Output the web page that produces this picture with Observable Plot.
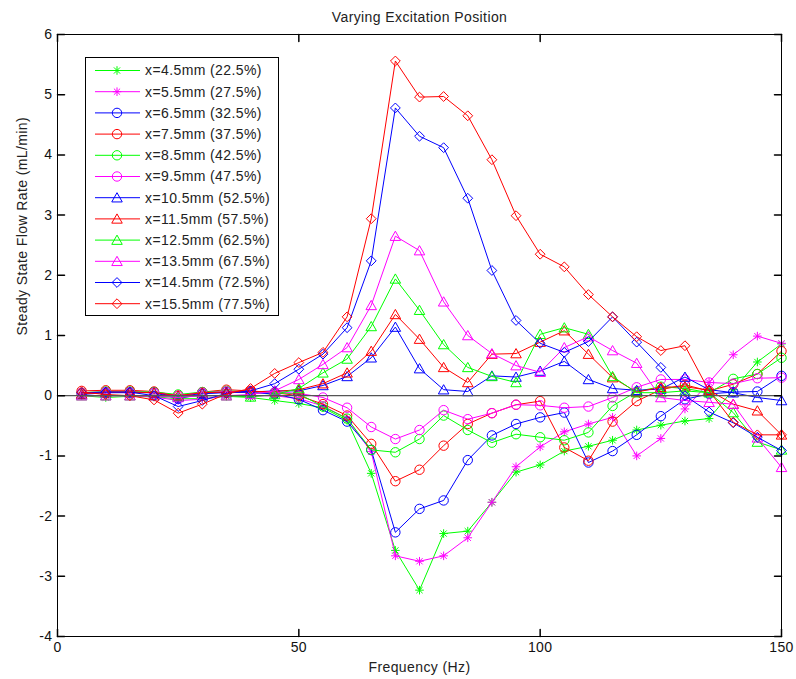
<!DOCTYPE html>
<html><head><meta charset="utf-8">
<script src="https://cdn.jsdelivr.net/npm/d3@7"></script>
<script src="https://cdn.jsdelivr.net/npm/@observablehq/plot@0.6"></script>
<style>
body{margin:0;background:#fff}
#wrap{position:relative;width:796px;height:679px}
#legend{position:absolute;left:0;top:0;pointer-events:none}
</style>
</head><body><div id="wrap"></div>
<script>
// ---------- data ----------
const freqs = [5,10,15,20,25,30,35,40,45,50,55,60,65,70,75,80,85,90,95,100,105,110,115,120,125,130,135,140,145,150];
const seriesLabels = ["x=4.5mm (22.5%)","x=5.5mm (27.5%)","x=6.5mm (32.5%)","x=7.5mm (37.5%)","x=8.5mm (42.5%)","x=9.5mm (47.5%)","x=10.5mm (52.5%)","x=11.5mm (57.5%)","x=12.5mm (62.5%)","x=13.5mm (67.5%)","x=14.5mm (72.5%)","x=15.5mm (77.5%)"];
const x45  = [0.00,-0.03,-0.01,-0.02,-0.05,-0.05,-0.01,-0.03,-0.08,-0.13,-0.20,-0.41,-1.29,-2.57,-3.23,-2.29,-2.25,-1.77,-1.27,-1.15,-0.92,-0.84,-0.74,-0.57,-0.49,-0.42,-0.38,0.10,0.56,0.86];
const x55  = [0.00,0.00,0.00,-0.02,-0.08,-0.06,0.00,0.00,0.00,-0.05,-0.17,-0.38,-0.93,-2.66,-2.75,-2.66,-2.36,-1.77,-1.18,-0.85,-0.60,-0.47,-0.36,-1.00,-0.71,-0.22,0.22,0.68,0.99,0.87];
const x65  = [0.04,0.06,0.06,0.05,-0.05,0.03,0.06,0.05,0.03,-0.06,-0.24,-0.43,-0.90,-2.27,-1.88,-1.74,-1.07,-0.66,-0.47,-0.36,-0.28,-1.11,-0.92,-0.65,-0.34,-0.06,0.03,0.06,0.07,0.33];
const x75  = [0.08,0.09,0.09,0.07,0.00,0.06,0.10,0.08,0.05,0.00,-0.14,-0.33,-0.80,-1.42,-1.23,-0.83,-0.47,-0.29,-0.15,-0.09,-0.86,-1.08,-0.43,-0.09,0.10,0.18,0.08,0.19,0.36,0.74];
const x85  = [0.05,0.07,0.07,0.06,0.02,0.06,0.08,0.06,0.05,0.03,-0.18,-0.38,-0.90,-0.94,-0.72,-0.33,-0.57,-0.78,-0.64,-0.69,-0.74,-0.61,-0.17,0.07,0.15,0.12,0.05,0.28,0.36,0.63];
const x95  = [0.05,0.06,0.06,0.05,0.00,0.05,0.07,0.06,0.06,0.04,-0.03,-0.20,-0.52,-0.72,-0.57,-0.24,-0.39,-0.29,-0.15,-0.16,-0.20,-0.18,-0.03,0.14,0.27,0.27,0.22,0.20,0.29,0.30];
const x105 = [0.02,0.05,0.05,0.05,-0.02,0.04,0.05,0.06,0.08,0.08,0.17,0.32,0.63,1.14,0.45,0.10,0.07,0.33,0.31,0.41,0.57,0.27,0.12,0.09,0.11,0.31,0.10,0.05,-0.03,-0.08];
const x115 = [0.03,0.06,0.06,0.05,0.00,0.05,0.06,0.07,0.07,0.10,0.20,0.38,0.74,1.35,0.94,0.47,0.22,0.69,0.70,0.89,1.08,0.69,0.30,0.06,0.14,0.15,0.09,-0.14,-0.25,-0.65];
const x125 = [0.00,0.00,0.00,0.00,-0.02,0.00,0.00,-0.02,0.02,0.12,0.38,0.61,1.15,1.94,1.42,0.85,0.47,0.32,0.22,1.02,1.13,1.02,0.32,0.05,0.05,0.08,0.05,-0.28,-0.77,-0.90];
const x135 = [0.00,0.00,0.00,0.00,-0.03,0.00,0.00,0.02,0.08,0.27,0.52,0.80,1.50,2.65,2.41,1.56,1.00,0.70,0.50,0.39,0.80,0.98,0.75,0.54,-0.03,-0.08,-0.11,-0.14,-0.70,-1.19];
const x145 = [0.05,0.06,0.06,0.00,-0.18,-0.08,0.04,0.08,0.20,0.44,0.69,1.13,2.24,4.78,4.31,4.12,3.28,2.08,1.25,0.87,0.72,0.90,1.31,0.89,0.47,0.00,-0.27,-0.45,-0.69,-0.91];
const x155 = [0.06,0.02,0.00,-0.07,-0.29,-0.14,0.03,0.12,0.37,0.55,0.72,1.31,2.94,5.56,4.96,4.97,4.65,3.92,2.99,2.35,2.14,1.68,1.31,0.98,0.75,0.83,0.08,-0.44,-0.65,-0.65];
const seriesValues = [x45,x55,x65,x75,x85,x95,x105,x115,x125,x135,x145,x155];
const xTicks = [0,50,100,150];
const yTicks = [-4,-3,-2,-1,0,1,2,3,4,5,6];
const titleText = "Varying Excitation Position";
const xLabelText = "Frequency (Hz)";
const yLabelText = "Steady State Flow Rate (mL/min)";

// ---------- styles ----------
const seriesColors = ["#00ff00","#ff00ff","#0000ff","#ff0000","#00ff00","#ff00ff","#0000ff","#ff0000","#00ff00","#ff00ff","#0000ff","#ff0000"];
const seriesMarkers = ["star","star","circle","circle","circle","circle","triangle","triangle","triangle","triangle","diamond","diamond"];
const FONT = "'Liberation Sans', Arial, sans-serif";

const symbols = {
  circle: {draw(c, size){ const s = Math.sqrt(size/Math.PI); c.moveTo(s,0); c.arc(0,0,s,0,2*Math.PI); c.closePath(); }},
  triangle: {draw(c, size){ const s = Math.sqrt(size/Math.PI); c.moveTo(0,-s); c.lineTo(s*1.05,s*0.85); c.lineTo(-s*1.05,s*0.85); c.closePath(); }},
  diamond: {draw(c, size){ const s = Math.sqrt(size/Math.PI); c.moveTo(0,-s); c.lineTo(s,0); c.lineTo(0,s); c.lineTo(-s,0); c.closePath(); }},
  star: {draw(c, size){ const s = Math.sqrt(size/Math.PI); const d = s*0.72;
    c.moveTo(0,-s); c.lineTo(0,s); c.moveTo(-s,0); c.lineTo(s,0);
    c.moveTo(-d,-d); c.lineTo(d,d); c.moveTo(-d,d); c.lineTo(d,-d); }}
};
const markerR = {circle:4.7, triangle:5, diamond:4.9, star:4.3};

const tickShape = {draw(c, l){ c.moveTo(0,0); c.lineTo(0,-l); }};

const marks = [];
seriesValues.forEach((vals, i) => {
  const rows = freqs.map((f, j) => ({f, v: vals[j]}));
  marks.push(Plot.line(rows, {x: "f", y: "v", stroke: seriesColors[i], strokeWidth: 1}));
  marks.push(Plot.dot(rows, {x: "f", y: "v", symbol: symbols[seriesMarkers[i]], r: markerR[seriesMarkers[i]], stroke: seriesColors[i], fill: "none", strokeWidth: 1}));
});

const chart = Plot.plot({
  width: 796, height: 679,
  marginLeft: 57, marginRight: 15, marginTop: 34, marginBottom: 43,
  style: {fontFamily: FONT, fontSize: "14px", letterSpacing: "0.4px", background: "white", color: "#222"},
  x: {domain: [0,150]},
  y: {domain: [-4,6]},
  marks: [
    ...marks,
    Plot.ruleY([0], {stroke: "#555", strokeWidth: 1.2}),
    Plot.frame({stroke: "#000", strokeWidth: 1}),
    Plot.vector(xTicks, {x: d => d, y: () => -4, length: 7, rotate: 0, anchor: "start", shape: tickShape, stroke: "#000"}),
    Plot.vector(xTicks, {x: d => d, y: () => 6, length: 7, rotate: 180, anchor: "start", shape: tickShape, stroke: "#000"}),
    Plot.vector(yTicks, {x: () => 0, y: d => d, length: 7, rotate: 90, anchor: "start", shape: tickShape, stroke: "#000"}),
    Plot.vector(yTicks, {x: () => 150, y: d => d, length: 7, rotate: 270, anchor: "start", shape: tickShape, stroke: "#000"}),
    Plot.axisX({ticks: xTicks, tickSize: 0, tickPadding: 6, label: null, tickFormat: d => String(d), fill: "#111"}),
    Plot.axisY({ticks: yTicks, tickSize: 0, tickPadding: 5, label: null, tickFormat: d => String(d), fill: "#111"}),
    Plot.text([titleText], {frameAnchor: "top", lineAnchor: "middle", dy: -17, text: d => d, fill: "#222"}),
    Plot.text([xLabelText], {frameAnchor: "bottom", lineAnchor: "middle", dy: 31, text: d => d, fill: "#222"}),
    Plot.text([yLabelText], {frameAnchor: "left", lineAnchor: "middle", dx: -35, rotate: -90, text: d => d, fill: "#222"})
  ]
});
const wrap = document.getElementById("wrap");
wrap.appendChild(chart);

// ---------- legend ----------
const lg = d3.select(wrap).append("svg").attr("id","legend").attr("width",796).attr("height",679)
  .style("font-family", FONT).style("font-size","14px").style("letter-spacing","0.4px");
lg.append("rect").attr("x",85.5).attr("y",57.5).attr("width",193).attr("height",258)
  .attr("fill","white").attr("stroke","#000").attr("stroke-width",1);
seriesLabels.forEach((lab, i) => {
  const y = 70.5 + i*21.2;
  const col = seriesColors[i], mk = seriesMarkers[i];
  lg.append("line").attr("x1",95).attr("x2",140).attr("y1",y).attr("y2",y).attr("stroke",col).attr("stroke-width",1);
  lg.append("path").attr("transform",`translate(117,${y})`)
    .attr("d", d3.symbol().type(symbols[mk]).size(Math.PI*markerR[mk]*markerR[mk])())
    .attr("fill","none").attr("stroke",col).attr("stroke-width",1);
  lg.append("text").attr("x",145).attr("y",y).attr("dy","0.35em").attr("fill","#222").text(lab);
});
</script>
</body></html>
